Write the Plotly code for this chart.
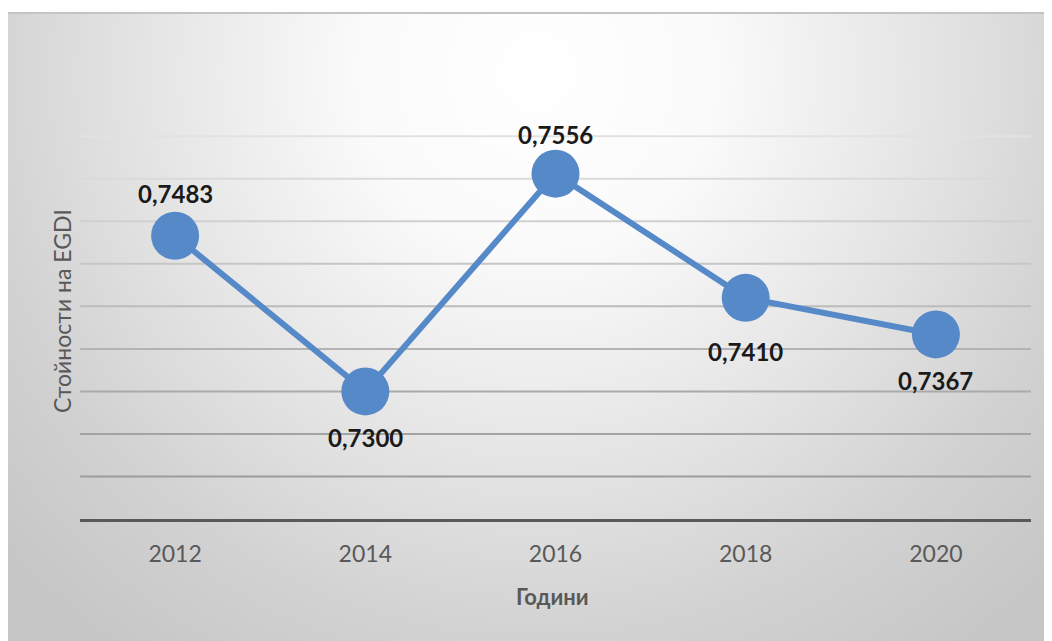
import base64
import plotly.graph_objects as go

years = ["2012", "2014", "2016", "2018", "2020"]
egdi = [0.7483, 0.7300, 0.7556, 0.7410, 0.7367]
label_shift = [42, -46, 39, -54, -46]
labels = [f"{v:.4f}".replace(".", ",") for v in egdi]

grid_vals = [0.720, 0.725, 0.730, 0.735, 0.740, 0.745, 0.750, 0.755, 0.760]
grid_cols = ["#9c9c9c", "#a3a3a3", "#aaaaaa", "#b3b3b3", "#bcbcbc",
             "#c6c6c6", "#d0d0d0", "#dadada", "#e2e2e2"]

# page body adds an 8px offset; work in figure coordinates = reference - 8
W, H = 1044, 633
ML, MR, MT, MB = 72, 21, 124, 122
pw, ph = W - ML - MR, H - MT - MB

svg = '''<svg xmlns="http://www.w3.org/2000/svg" width="1045" height="629" viewBox="0 0 1045 629" preserveAspectRatio="none">
<defs><radialGradient id="g" gradientUnits="userSpaceOnUse" cx="530" cy="60" r="720">
<stop offset="0" stop-color="#ffffff"/><stop offset="0.25" stop-color="#fafafa"/>
<stop offset="0.55" stop-color="#e4e4e4"/><stop offset="0.78" stop-color="#d2d2d2"/>
<stop offset="1" stop-color="#c6c6c6"/></radialGradient></defs>
<rect x="0" y="0" width="1045" height="629" fill="url(#g)"/>
<rect x="0" y="0" width="1045" height="2" fill="#c4c4c4"/>
</svg>'''
src = "data:image/svg+xml;base64," + base64.b64encode(svg.encode()).decode()

fig = go.Figure()
fig.add_trace(go.Scatter(
    x=years, y=egdi, mode="lines+markers",
    line=dict(color="#5689c8", width=6),
    marker=dict(size=48, color="#5689c8"),
    cliponaxis=False, hoverinfo="skip",
))

fig.add_layout_image(dict(
    source=src, xref="paper", yref="paper",
    x=(-1 - ML) / pw, y=(H - MB - 4) / ph,
    sizex=(W + 1) / pw, sizey=(H - 4) / ph,
    xanchor="left", yanchor="top", sizing="stretch", layer="below",
))

for v, c in zip(grid_vals, grid_cols):
    fig.add_shape(type="line", xref="paper", x0=0, x1=1, yref="y", y0=v, y1=v,
                  line=dict(color=c, width=2), layer="below")

annots = []
for i, (yv, t, s) in enumerate(zip(egdi, labels, label_shift)):
    annots.append(dict(x=i, y=yv, xref="x", yref="y", text=t, showarrow=False,
                       xanchor="center", yanchor="middle", yshift=s,
                       font=dict(family="Lato", size=24, color="#1a1a1a", weight="bold")))
annots += [
    dict(text="Години", xref="paper", yref="paper",
         x=(552 - 8 - ML) / pw, y=(H - MB - (596 - 8)) / ph, showarrow=False,
         xanchor="center", yanchor="middle",
         font=dict(family="Lato", size=22, color="#595959", weight="bold")),
    dict(text="Стойности на EGDI", xref="paper", yref="paper",
         x=(62 - 8 - ML) / pw, y=(H - MB - (311 - 8)) / ph, showarrow=False, textangle=-90,
         xanchor="center", yanchor="middle",
         font=dict(family="Lato", size=23, color="#595959")),
]

fig.update_layout(
    width=W, height=H,
    margin=dict(l=ML, r=MR, t=MT, b=MB),
    paper_bgcolor="white", plot_bgcolor="rgba(0,0,0,0)",
    showlegend=False,
    xaxis=dict(
        type="category", range=[-0.5, 4.5], showgrid=False, zeroline=False,
        showline=True, linecolor="#595959", linewidth=3,
        ticks="", ticklabelstandoff=12,
        tickfont=dict(family="Lato", size=23, color="#595959"),
    ),
    yaxis=dict(
        range=[0.715, 0.7605], showgrid=False,
        zeroline=False, showticklabels=False, showline=False,
    ),
    annotations=annots,
)

fig.write_html("out.html")
